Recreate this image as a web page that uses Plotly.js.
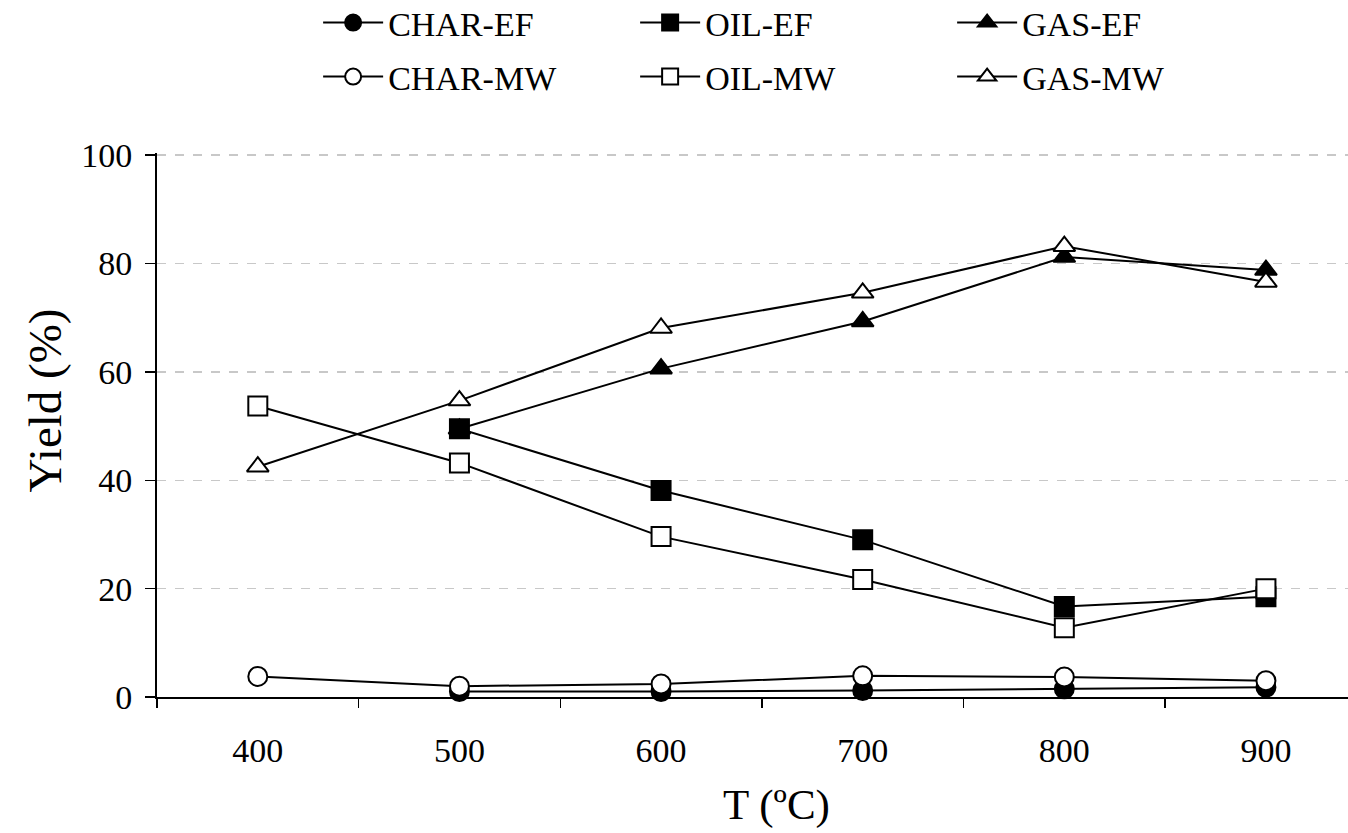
<!DOCTYPE html>
<html>
<head>
<meta charset="utf-8">
<script src="https://cdn.plot.ly/plotly-3.0.1.min.js"></script>
<style>html,body{margin:0;padding:0;background:#fff;}#chart{width:1348px;height:833px;}</style>
</head>
<body>
<div id="chart"></div>
<script>
const temperatures = [400, 500, 600, 700, 800, 900];
const tempsEF = [500, 600, 700, 800, 900];

const charEF = [1.0, 1.0, 1.2, 1.5, 1.8];
const oilEF  = [49.5, 38.1, 29.0, 16.7, 18.5];
const gasEF  = [49.5, 60.6, 69.3, 81.2, 78.8];

const charMW = [3.8, 2.0, 2.4, 3.9, 3.7, 3.0];
const oilMW  = [53.7, 43.2, 29.6, 21.7, 12.8, 20.0];
const gasMW  = [42.5, 54.7, 68.1, 74.6, 83.2, 76.6];

const xTickLabels = ['400', '500', '600', '700', '800', '900'];
const yTicks = [0, 20, 40, 60, 80, 100];
const xTitle = 'T (ºC)';
const yTitle = 'Yield (%)';

function trace(name, x, y, symbol, legend) {
  const open = symbol.indexOf('open') >= 0;
  return {
    type: 'scatter', mode: 'lines+markers', name: name, x: x, y: y,
    legend: legend,
    line: {color: '#000', width: 2},
    marker: {symbol: symbol.replace('-open',''), size: 19,
             color: open ? '#fff' : '#000',
             line: {color: '#000', width: 2}},
    cliponaxis: false
  };
}

const data = [
  trace('CHAR-EF', tempsEF, charEF, 'circle', 'legend'),
  trace('OIL-EF', tempsEF, oilEF, 'square', 'legend'),
  trace('GAS-EF', tempsEF, gasEF, 'triangle-up', 'legend'),
  trace('CHAR-MW', temperatures, charMW, 'circle-open', 'legend2'),
  trace('OIL-MW', temperatures, oilMW, 'square-open', 'legend2'),
  trace('GAS-MW', temperatures, gasMW, 'triangle-up-open', 'legend2')
];

const fontFam = '"Liberation Serif", "Times New Roman", serif';
const legendCommon = {
  orientation: 'h', xref: 'container', yref: 'container',
  x: 0.236, xanchor: 'left', yanchor: 'middle',
  font: {family: fontFam, size: 34, color: '#000'},
  entrywidth: 242, entrywidthmode: 'pixels',
  itemwidth: 60,
  bgcolor: 'rgba(0,0,0,0)', borderwidth: 0,
  itemclick: false, itemdoubleclick: false
};

const layout = {
  width: 1348, height: 833,
  margin: {l: 157, r: 0, t: 153, b: 136},
  paper_bgcolor: '#fff', plot_bgcolor: '#fff',
  font: {family: fontFam, color: '#000'},
  showlegend: true,
  legend: Object.assign({}, legendCommon, {y: 1 - 23/833}),
  legend2: Object.assign({}, legendCommon, {y: 1 - 77/833}),
  xaxis: {
    range: [350, 940.7],
    tickvals: temperatures, ticktext: xTickLabels,
    ticks: '', ticklabelstandoff: 22,
    tickfont: {family: fontFam, size: 34, color: '#000'},
    showgrid: false, zeroline: false,
    showline: true, linecolor: '#000', linewidth: 2,
    minor: {tick0: 350, dtick: 100, ticks: 'outside', ticklen: 9, tickcolor: '#000', tickwidth: 1.5, showgrid: false},
    fixedrange: true
  },
  yaxis: {
    range: [0, 100.4],
    tickvals: yTicks,
    ticks: 'outside', ticklen: 10, tickcolor: '#000', tickwidth: 1.5,
    ticklabelstandoff: 6,
    tickfont: {family: fontFam, size: 34, color: '#000'},
    showgrid: true, gridcolor: '#c8c8c8', gridwidth: 1.5, griddash: 'dash',
    zeroline: false,
    showline: true, linecolor: '#000', linewidth: 2,
    fixedrange: true
  },
  annotations: [
    {text: xTitle, xref: 'paper', yref: 'paper', x: 0.52, y: 0, yshift: -108,
     xanchor: 'center', yanchor: 'middle', showarrow: false,
     font: {family: fontFam, size: 43, color: '#000'}},
    {text: yTitle, xref: 'paper', yref: 'paper', x: 0, xshift: -112, y: 0.545,
     xanchor: 'center', yanchor: 'middle', textangle: -90, showarrow: false,
     font: {family: fontFam, size: 47, color: '#000'}}
  ]
};

Plotly.newPlot('chart', data, layout, {displayModeBar: false, staticPlot: true});
</script>
</body>
</html>
